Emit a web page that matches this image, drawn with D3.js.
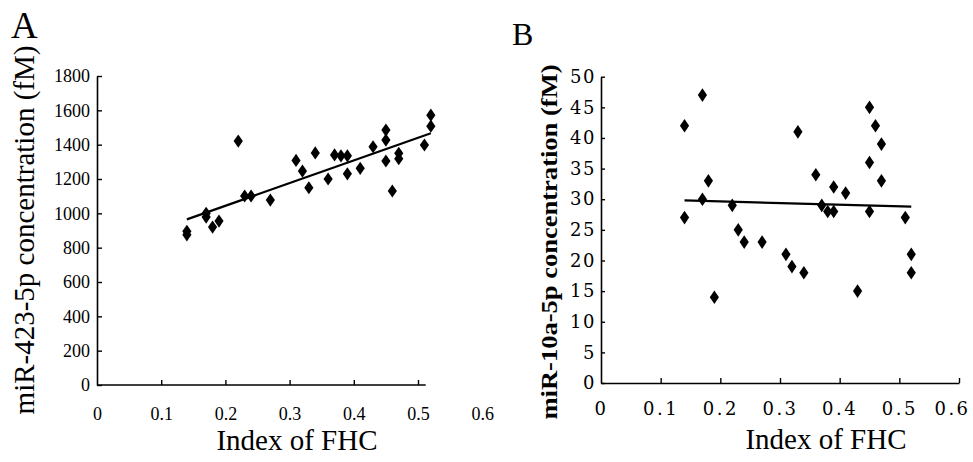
<!DOCTYPE html>
<html>
<head>
<meta charset="utf-8">
<script src="https://cdn.jsdelivr.net/npm/d3@7"></script>
<style>
  body { margin: 0; background: #fff; }
  svg { display: block; }
</style>
</head>
<body>
<div id="chart"></div>
<script>

var width = 973,
    height = 462;

// Panel A: miR-423-5p vs Index of FHC
var fhcA = [0.14, 0.14, 0.17, 0.17, 0.18, 0.19, 0.22, 0.23, 0.24, 0.27,
            0.31, 0.32, 0.33, 0.34, 0.36, 0.37, 0.38, 0.39, 0.39, 0.41,
            0.43, 0.45, 0.45, 0.45, 0.46, 0.47, 0.47, 0.51, 0.52, 0.52];
var mir423 = [895, 875, 1000, 978, 920, 955, 1421, 1101, 1101, 1077,
              1308, 1246, 1149, 1352, 1200, 1340, 1335, 1335, 1230, 1262,
              1388, 1485, 1427, 1305, 1130, 1350, 1318, 1398, 1572, 1508];
var fitA = [[0.14, 965], [0.52, 1466]];

// Panel B: miR-10a-5p vs Index of FHC
var fhcB = [0.14, 0.14, 0.17, 0.17, 0.18, 0.19, 0.22, 0.23, 0.24, 0.27,
            0.31, 0.32, 0.33, 0.34, 0.36, 0.37, 0.38, 0.39, 0.39, 0.41,
            0.43, 0.45, 0.45, 0.45, 0.46, 0.47, 0.47, 0.51, 0.52, 0.52];
var mir10a = [42, 27, 47, 30, 33, 14, 29, 25, 23, 23,
              21, 19, 41, 18, 34, 29, 28, 32, 28, 31,
              15, 45, 36, 28, 42, 39, 33, 27, 21, 18];
var fitB = [[0.14, 29.8], [0.52, 28.8]];

var xTicks = [0, 0.1, 0.2, 0.3, 0.4, 0.5, 0.6];
var yTicksA = [0, 200, 400, 600, 800, 1000, 1200, 1400, 1600, 1800];
var yTicksB = [0, 5, 10, 15, 20, 25, 30, 35, 40, 45, 50];
var xAxisEndA = 0.512;  // the x axis line in A stops just past 0.5

var serif = "'Liberation Serif', 'Times New Roman', serif";
var cjkSerif = "'DejaVu Serif', serif";

var svg = d3.select("#chart").append("svg")
    .attr("width", width)
    .attr("height", height);

svg.append("rect").attr("width", width).attr("height", height).attr("fill", "#fff");

function diamond(w, h) {
  return "M0," + (-h) + "L" + w + ",0L0," + h + "L" + (-w) + ",0Z";
}

function fmtX(d) { return d === 0 ? "0" : d3.format(".1f")(d); }

// ---------- Panel A ----------
var xA = d3.scaleLinear().domain([0, 0.6]).range([97, 482.2]);
var yA = d3.scaleLinear().domain([0, 1800]).range([385, 76]);

var gA = svg.append("g");

gA.append("g")
    .attr("transform", "translate(" + xA(0) + ",0)")
    .call(d3.axisLeft(yA).tickValues(yTicksA).tickFormat(d3.format("d"))
      .tickSizeInner(-5).tickSizeOuter(0).tickPadding(7))
    .call(function(g) {
      g.select(".domain").attr("stroke-width", 1.6);
      g.selectAll(".tick line").attr("stroke-width", 1.4);
      g.selectAll(".tick text").attr("font-family", serif).attr("font-size", 18).attr("fill", "#000");
    });

gA.append("g")
    .attr("transform", "translate(0," + yA(0) + ")")
    .call(d3.axisBottom(xA).tickValues(xTicks).tickFormat(fmtX)
      .tickSizeInner(-5).tickSizeOuter(0).tickPadding(22))
    .call(function(g) {
      g.select(".domain").remove();
      g.selectAll(".tick line").attr("stroke-width", 1.4)
        .filter(function(d) { return d === 0 || d > xAxisEndA; }).remove();
      g.selectAll(".tick text").attr("font-family", serif).attr("font-size", 18).attr("fill", "#000");
    });

gA.append("line")
    .attr("x1", xA(0)).attr("x2", xA(xAxisEndA))
    .attr("y1", yA(0)).attr("y2", yA(0))
    .attr("stroke", "#000").attr("stroke-width", 1.6);

gA.append("line")
    .attr("x1", xA(fitA[0][0])).attr("y1", yA(fitA[0][1]))
    .attr("x2", xA(fitA[1][0])).attr("y2", yA(fitA[1][1]))
    .attr("stroke", "#000").attr("stroke-width", 2.2);

gA.selectAll("path.pt")
    .data(fhcA.map(function(d, i) { return [d, mir423[i]]; }))
    .enter().append("path")
    .attr("class", "pt")
    .attr("d", diamond(4.6, 6.6))
    .attr("transform", function(d) { return "translate(" + xA(d[0]) + "," + yA(d[1]) + ")"; })
    .attr("fill", "#000");

gA.append("text")
    .attr("transform", "translate(34,230) rotate(-90)")
    .attr("text-anchor", "middle")
    .attr("font-family", serif)
    .attr("font-size", 29)
    .text("miR-423-5p concentration (fM)");

gA.append("text")
    .attr("x", 297).attr("y", 450)
    .attr("text-anchor", "middle")
    .attr("font-family", serif)
    .attr("font-size", 29)
    .text("Index of FHC");

gA.append("text")
    .attr("x", 11).attr("y", 38)
    .attr("font-family", serif)
    .attr("font-size", 37)
    .text("A");

// ---------- Panel B ----------
var xB = d3.scaleLinear().domain([0, 0.6]).range([601, 959]);
var yB = d3.scaleLinear().domain([0, 50]).range([383, 76.7]);

var gB = svg.append("g");

gB.append("g")
    .attr("transform", "translate(" + xB(0) + ",0)")
    .call(d3.axisLeft(yB).tickValues(yTicksB).tickFormat(d3.format("d"))
      .tickSizeInner(-4).tickSizeOuter(0).tickPadding(5))
    .call(function(g) {
      g.select(".domain").attr("stroke-width", 1.6);
      g.selectAll(".tick line").attr("stroke-width", 1.4);
      g.selectAll(".tick text").attr("font-family", cjkSerif).attr("font-size", 18)
        .attr("fill", "#000").attr("letter-spacing", 1.5);
    });

gB.append("g")
    .attr("transform", "translate(0," + yB(0) + ")")
    .call(d3.axisBottom(xB).tickValues(xTicks).tickFormat(fmtX)
      .tickSizeInner(-5).tickSizeOuter(0).tickPadding(19))
    .call(function(g) {
      g.select(".domain").attr("stroke-width", 1.6);
      g.selectAll(".tick line").attr("stroke-width", 1.4)
        .filter(function(d) { return d === 0; }).remove();
      g.selectAll(".tick text").attr("font-family", cjkSerif).attr("font-size", 18)
        .attr("fill", "#000").attr("letter-spacing", 2.5);
      // last label sits a bit left of its tick so it fits the edge
      g.selectAll(".tick text").filter(function(d) { return d === 0.6; }).attr("dx", -7);
    });

gB.append("line")
    .attr("x1", xB(fitB[0][0])).attr("y1", yB(fitB[0][1]))
    .attr("x2", xB(fitB[1][0])).attr("y2", yB(fitB[1][1]))
    .attr("stroke", "#000").attr("stroke-width", 2.2);

gB.selectAll("path.pt")
    .data(fhcB.map(function(d, i) { return [d, mir10a[i]]; }))
    .enter().append("path")
    .attr("class", "pt")
    .attr("d", diamond(4.6, 6.8))
    .attr("transform", function(d) { return "translate(" + xB(d[0]) + "," + yB(d[1]) + ")"; })
    .attr("fill", "#000");

gB.append("text")
    .attr("transform", "translate(557,242) rotate(-90)")
    .attr("text-anchor", "middle")
    .attr("font-family", serif)
    .attr("font-weight", "bold")
    .attr("font-size", 24)
    .attr("textLength", 355)
    .attr("lengthAdjust", "spacingAndGlyphs")
    .text("miR-10a-5p concentration (fM)");

gB.append("text")
    .attr("x", 826).attr("y", 449)
    .attr("text-anchor", "middle")
    .attr("font-family", serif)
    .attr("font-size", 29)
    .text("Index of FHC");

gB.append("text")
    .attr("x", 512).attr("y", 45)
    .attr("font-family", serif)
    .attr("font-size", 32)
    .text("B");

</script>
</body>
</html>
